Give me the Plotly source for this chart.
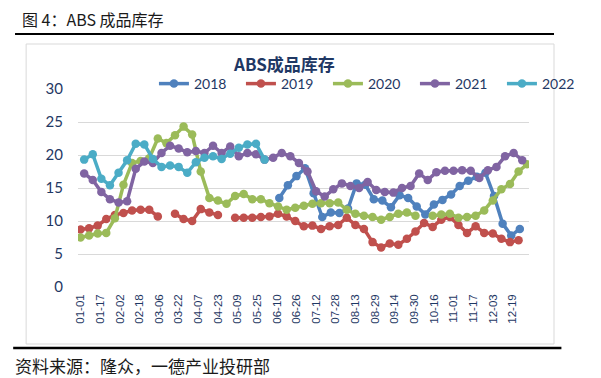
import pandas as pd
import plotly.graph_objects as go

# ---------------- data ----------------
ref_year = 2021
tick_labels = ["01-01", "01-17", "02-02", "02-18", "03-06", "03-22", "04-07", "04-23",
               "05-09", "05-25", "06-10", "06-26", "07-12", "07-28", "08-13", "08-29",
               "09-14", "09-30", "10-16", "11-01", "11-17", "12-03", "12-19"]
series_names = ["2018", "2019", "2020", "2021", "2022"]
series_colors = ["#4f81bd", "#c0504d", "#9bbb59", "#8064a2", "#4bacc6"]

start_2018 = "06-12"
vals_2018 = [13.5, 15.4, 16.8, 18.0, 14.2, 10.6, 11.3, 11.2, 11.9, 15.7, 15.5, 13.3, 13.1,
             12.1, 13.9, 13.5, 12.2, 11.0, 12.5, 13.2, 14.0, 15.3, 16.1, 16.7, 17.3, 13.8,
             9.6, 7.8, 8.8]

start_2019 = "01-01"
vals_2019 = [8.7, 8.9, 9.3, 10.3, 10.9, 11.2, 11.6, 11.7, 11.7, 10.7,
             None, 11.1, 10.3, 10.0, 11.8, 11.3, 10.9, None, 10.5, 10.5,
             10.5, 10.6, 10.7, 11.1, 10.7, 10.0, 9.2, 9.3, 8.8, 9.2,
             9.4, 10.5, 9.4, 8.8, 6.8, 6.0, 6.6, 6.4, 7.3, 8.4,
             9.7, 9.1, 10.2, 10.6, 9.4, 8.2, 9.2, 8.2, 8.1, 7.3,
             6.8, 7.1]

start_2020 = "01-01"
vals_2020 = [7.5, 7.8, 8.1, 8.2, 10.4, 15.5, 18.8, 19.1, 19.5, 22.5,
             21.8, 23.0, 24.3, 23.1, 17.5, 13.5, 13.1, 12.6, 13.8, 14.1,
             13.3, 13.3, 12.7, 12.2, 11.7, 12.0, 12.3, 12.6, 12.7, 12.7,
             12.8, 11.7, 11.1, 10.8, 10.6, 10.2, 10.6, 11.1, 11.3, 10.8,
             None, 10.8, 11.0, 11.1, 10.5, 10.6, 10.8, 11.6, 13.1, 14.8,
             15.6, 17.5, 18.6]

start_2021 = "01-04"
vals_2021 = [17.2, 16.2, 14.4, 13.3, 12.8, 13.0, 17.9, 19.0, 18.8, 20.3,
             21.4, 21.0, 20.4, 20.6, 20.3, 21.4, 20.3, 21.3, 19.8, 20.3,
             20.1, 19.3, 19.6, 20.3, 19.8, 18.8, 17.5, 14.5, 13.7, 14.8,
             15.7, 15.3, 15.0, 15.9, 14.7, 14.4, 14.3, 15.0, 15.3, 17.2,
             16.2, 17.4, 17.6, 17.6, 17.7, 17.6, 16.5, 17.7, 18.2, 19.8,
             20.3, 19.2]

start_2022 = "01-04"
vals_2022 = [19.3, 20.1, 16.4, 15.4, 17.3, 19.2, 21.7, 21.6, 19.4, 18.2, 18.4,
             18.2, 17.3, 18.9, 19.6, 19.8, 19.4, 20.2, 21.1, 21.6, 21.7, 19.3]

starts = [start_2018, start_2019, start_2020, start_2021, start_2022]
values = [vals_2018, vals_2019, vals_2020, vals_2021, vals_2022]

# ---------------- layout helpers (page pixel -> paper) ----------------
PAGE_OFF = 8            # default body margin of the html page
W, H = 593, 370         # figure size so that it fills the 601x378 window
PLOT_L, PLOT_R, PLOT_T, PLOT_B = 78, 565, 89, 287   # plot area in page pixels
ML = PLOT_L - PAGE_OFF
MT = PLOT_T - PAGE_OFF
MR = PAGE_OFF + W - PLOT_R
MB = PAGE_OFF + H - PLOT_B
PW, PH = PLOT_R - PLOT_L, PLOT_B - PLOT_T


def px_x(px):
    return (px - PLOT_L) / PW


def px_y(py):
    return (PLOT_B - py) / PH


navy = "#1f3864"

fig = go.Figure()
for name, color, start, vals in zip(series_names, series_colors, starts, values):
    dates = pd.date_range(start=f"{ref_year}-{start}", periods=len(vals), freq="7D")
    fig.add_trace(go.Scatter(
        x=dates, y=vals, name=name, mode="lines+markers",
        line=dict(color=color, width=3.5),
        marker=dict(color=color, size=8.5),
        connectgaps=False,
    ))

base = pd.Timestamp(f"{ref_year}-01-01")
x_range = [base - pd.Timedelta(days=2.04), base + pd.Timedelta(days=365.5)]

fig.update_layout(
    width=W, height=H,
    margin=dict(l=ML, r=MR, t=MT, b=MB, pad=0),
    paper_bgcolor="white", plot_bgcolor="white",
    font=dict(family="Lato, Noto Sans CJK SC", color=navy),
    showlegend=True,
    legend=dict(
        orientation="h", x=px_x(160), xanchor="left",
        y=px_y(84), yanchor="middle",
        font=dict(size=14, color=navy, family="Lato"),
        entrywidth=42, entrywidthmode="pixels",
        bgcolor="rgba(0,0,0,0)", borderwidth=0,
        itemclick=False,
    ),
    xaxis=dict(
        type="date", range=x_range,
        tickvals=[f"{ref_year}-{t}" for t in tick_labels], ticktext=tick_labels,
        tickangle=-90, tickfont=dict(size=11.5, color=navy, family="Liberation Sans"),
        showgrid=False, zeroline=False, showline=False, ticks="",
        ticklabelstandoff=4,
    ),
    yaxis=dict(
        range=[0, 30], dtick=5, tick0=0,
        tickfont=dict(size=15, color=navy, family="Lato"),
        gridcolor="#d9d9d9", gridwidth=1, zeroline=False, showline=False,
        ticks="", ticklabelstandoff=14,
    ),
)

# chart frame and separator lines
fig.add_shape(type="rect", xref="paper", yref="paper",
              x0=px_x(22), x1=px_x(592), y0=px_y(344), y1=px_y(44),
              line=dict(color="#d9d9d9", width=1), fillcolor="rgba(0,0,0,0)", layer="below")
fig.add_shape(type="line", xref="paper", yref="paper",
              x0=px_x(10), x1=px_x(592), y0=px_y(34), y1=px_y(34),
              line=dict(color="black", width=2))
fig.add_shape(type="line", xref="paper", yref="paper",
              x0=px_x(8), x1=px_x(600), y0=px_y(348), y1=px_y(348),
              line=dict(color="black", width=2.5))

# texts
fig.add_annotation(text="图 4：ABS 成品库存", xref="paper", yref="paper",
                   x=px_x(15), y=px_y(19), xanchor="left", yanchor="middle",
                   showarrow=False, font=dict(size=16, color="#1a1a1a", family="Noto Sans CJK SC"))
fig.add_annotation(text="<b>ABS成品库存</b>", xref="paper", yref="paper",
                   x=px_x(300), y=px_y(63), xanchor="center", yanchor="middle",
                   showarrow=False, font=dict(size=17, color=navy, family="Noto Sans CJK SC"))
fig.add_annotation(text="资料来源：隆众，一德产业投研部", xref="paper", yref="paper",
                   x=px_x(8), y=px_y(365), xanchor="left", yanchor="middle",
                   showarrow=False, font=dict(size=17, color="#1a1a1a", family="Noto Sans CJK SC"))

fig.write_html("out.html")
